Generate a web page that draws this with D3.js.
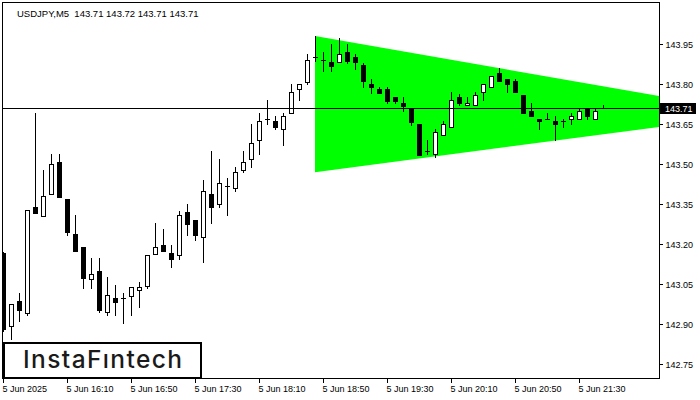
<!DOCTYPE html>
<html><head><meta charset="utf-8">
<script src="https://cdn.jsdelivr.net/npm/d3@7"></script>
<style>body{margin:0;background:#fff} svg{display:block}</style>
</head><body><svg id="c" width="700" height="400"></svg>
<script>
const symbol = "USDJPY,M5";
const lastOHLC = ["143.71","143.72","143.71","143.71"];
const timeLabels = ["5 Jun 2025","5 Jun 16:10","5 Jun 16:50","5 Jun 17:30","5 Jun 18:10","5 Jun 18:50","5 Jun 19:30","5 Jun 20:10","5 Jun 20:50","5 Jun 21:30"];
const timeLabelIdx = [0,8,16,24,32,40,48,56,64,72];
const yTicks = [142.75,142.90,143.05,143.20,143.35,143.50,143.65,143.80,143.95];
const opens = [143.166,142.894,142.986,142.942,143.339,143.306,143.386,143.507,143.369,143.237,
143.189,143.068,143.099,142.944,142.998,142.998,143.006,143.026,143.044,143.164,
143.195,143.165,143.158,143.319,143.289,143.225,143.386,143.349,143.416,143.409,
143.476,143.518,143.589,143.668,143.660,143.630,143.690,143.780,143.809,143.900,
143.889,143.881,143.881,143.919,143.900,143.870,143.799,143.780,143.780,143.750,
143.728,143.707,143.649,143.548,143.536,143.608,143.638,143.750,143.720,143.720,
143.769,143.788,143.840,143.818,143.810,143.758,143.698,143.668,143.668,143.660,
143.660,143.668,143.668,143.709,143.668,143.710];
const highs = [143.170,142.974,143.017,143.327,143.692,143.477,143.537,143.537,143.369,143.309,
143.189,143.148,143.148,143.076,143.046,143.017,143.038,143.056,143.158,143.278,
143.255,143.195,143.325,143.349,143.289,143.440,143.548,143.518,143.446,143.488,
143.548,143.650,143.690,143.739,143.679,143.690,143.799,143.800,143.912,143.980,
143.920,143.950,143.972,143.950,143.912,143.880,143.818,143.788,143.788,143.750,
143.750,143.710,143.649,143.590,143.630,143.660,143.770,143.761,143.750,143.769,
143.800,143.830,143.860,143.818,143.819,143.758,143.728,143.668,143.690,143.679,
143.668,143.690,143.709,143.709,143.709,143.720];
const lows = [142.875,142.844,142.912,142.934,143.317,143.306,143.386,143.377,143.234,143.175,
143.036,143.036,142.944,142.934,142.934,142.905,142.934,142.965,143.036,143.164,
143.175,143.115,143.145,143.235,143.216,143.134,143.278,143.338,143.308,143.398,
143.469,143.488,143.536,143.649,143.630,143.570,143.690,143.739,143.799,143.887,
143.850,143.850,143.881,143.880,143.857,143.788,143.767,143.767,143.728,143.728,
143.698,143.647,143.535,143.537,143.527,143.608,143.638,143.720,143.720,143.720,
143.739,143.788,143.810,143.769,143.769,143.690,143.679,143.630,143.668,143.589,
143.638,143.649,143.668,143.668,143.668,143.710];
const closes = [142.881,142.974,142.952,143.327,143.317,143.379,143.499,143.377,143.246,143.175,
143.074,143.088,142.952,143.008,142.984,142.998,143.038,143.038,143.158,143.189,
143.175,143.145,143.308,143.276,143.235,143.398,143.338,143.428,143.416,143.469,
143.506,143.578,143.660,143.668,143.638,143.679,143.769,143.799,143.890,143.900,
143.889,143.869,143.912,143.887,143.881,143.810,143.788,143.767,143.737,143.737,
143.719,143.659,143.535,143.548,143.619,143.649,143.739,143.728,143.728,143.758,
143.799,143.829,143.810,143.799,143.769,143.690,143.679,143.660,143.668,143.649,
143.660,143.679,143.698,143.679,143.698,143.710];
const triUpper = [[39,143.980],[82,143.755]];
const triLower = [[39,143.469],[82,143.639]];
const currentPrice = 143.71;
const logoText = "InstaF\u0131ntech";

const svg = d3.select("#c");
const L = 3, R = 659, T = 3, B = 378;
const x = d3.scaleLinear().domain([0, 82]).range([3, 659]);
const y = d3.scaleLinear().domain([142.75, 143.95]).range([364, 44]);
const font = "'Liberation Sans', Arial, sans-serif";

svg.append("defs").append("clipPath").attr("id","plot")
  .append("rect").attr("x",L).attr("y",T).attr("width",R-L).attr("height",B-T);

const g = svg.append("g").attr("clip-path","url(#plot)");

// triangle
const poly = [triUpper[0], triUpper[1], triLower[1], triLower[0]];
g.append("polygon")
  .attr("points", poly.map(p => [x(p[0]), y(p[1])].join(",")).join(" "))
  .attr("fill", "#00ff00");

// candles
const data = opens.map((o,i)=>({i,o,h:highs[i],l:lows[i],c:closes[i]}));
const cg = g.append("g").attr("shape-rendering","crispEdges");
data.forEach(d => {
  const cx = Math.round(x(d.i));
  const yh = Math.round(y(d.h)), yl = Math.round(y(d.l));
  const yTop = Math.round(y(Math.max(d.o,d.c))), yBot = Math.round(y(Math.min(d.o,d.c)));
  cg.append("line").attr("x1",cx+0.5).attr("x2",cx+0.5).attr("y1",yh).attr("y2",yl+1)
    .attr("stroke","#000").attr("stroke-width",1);
  if (yBot - yTop < 1) {
    cg.append("line").attr("x1",cx-2).attr("x2",cx+3).attr("y1",yTop+0.5).attr("y2",yTop+0.5)
      .attr("stroke","#000").attr("stroke-width",1);
  } else if (d.c > d.o) {
    cg.append("rect").attr("x",cx-1.5).attr("y",yTop+0.5).attr("width",4).attr("height",yBot-yTop)
      .attr("fill","#fff").attr("stroke","#000").attr("stroke-width",1);
  } else {
    cg.append("rect").attr("x",cx-2).attr("y",yTop).attr("width",5).attr("height",yBot-yTop+1)
      .attr("fill","#000");
  }
});

// current price line
g.append("line").attr("x1",L).attr("x2",R).attr("y1",Math.round(y(currentPrice))+0.5).attr("y2",Math.round(y(currentPrice))+0.5)
  .attr("stroke","#000").attr("stroke-width",1).attr("shape-rendering","crispEdges");

// frame
svg.append("rect").attr("x",2.5).attr("y",2.5).attr("width",R-2).attr("height",B-2)
  .attr("fill","none").attr("stroke","#000").attr("stroke-width",1).attr("shape-rendering","crispEdges");

// y axis
const ya = svg.append("g").attr("transform",`translate(${R+0.5},0)`)
  .call(d3.axisRight(y).tickValues(yTicks).tickSize(3).tickPadding(3).tickFormat(d3.format(".2f")));
ya.select(".domain").remove();
ya.selectAll("text").attr("font-family",font).attr("font-size","9px").attr("fill","#000").attr("dy","0.35em");
ya.selectAll("line").attr("stroke","#000").attr("shape-rendering","crispEdges");

// x axis
const xa = svg.append("g").attr("transform",`translate(0,${B+0.5})`)
  .call(d3.axisBottom(x).tickValues(timeLabelIdx).tickSize(4).tickFormat((d,k)=>timeLabels[k]));
xa.select(".domain").remove();
xa.selectAll(".tick line").attr("stroke","#000").attr("shape-rendering","crispEdges");
xa.selectAll("text").attr("font-family",font).attr("font-size","9px").attr("fill","#000")
  .attr("text-anchor","start").attr("x",-1).attr("y",13).attr("dy",0);

// current price label
const py = Math.round(y(currentPrice));
svg.append("rect").attr("x",R+1).attr("y",py-5).attr("width",36).attr("height",11).attr("fill","#000");
svg.append("text").attr("x",R+6).attr("y",py+3.5).attr("font-family",font).attr("font-size","9px")
  .attr("fill","#fff").text(d3.format(".2f")(currentPrice));

// title
svg.append("text").attr("x",17).attr("y",17).attr("font-family",font).attr("font-size","9.5px").attr("fill","#000")
  .attr("xml:space","preserve").style("white-space","pre")
  .text(symbol + "  " + lastOHLC.join(" "));

// logo
svg.append("rect").attr("x",4).attr("y",343).attr("width",197).attr("height",35)
  .attr("fill","#fff").attr("stroke","#000").attr("stroke-width",2);
svg.append("text").attr("x",23).attr("y",368).attr("font-family","Inter, 'Open Sans', sans-serif")
  .attr("font-size","24.5px").attr("font-weight",500).attr("fill","#1a1a1a")
  .attr("textLength",159).attr("lengthAdjust","spacing").text(logoText);
</script></body></html>
